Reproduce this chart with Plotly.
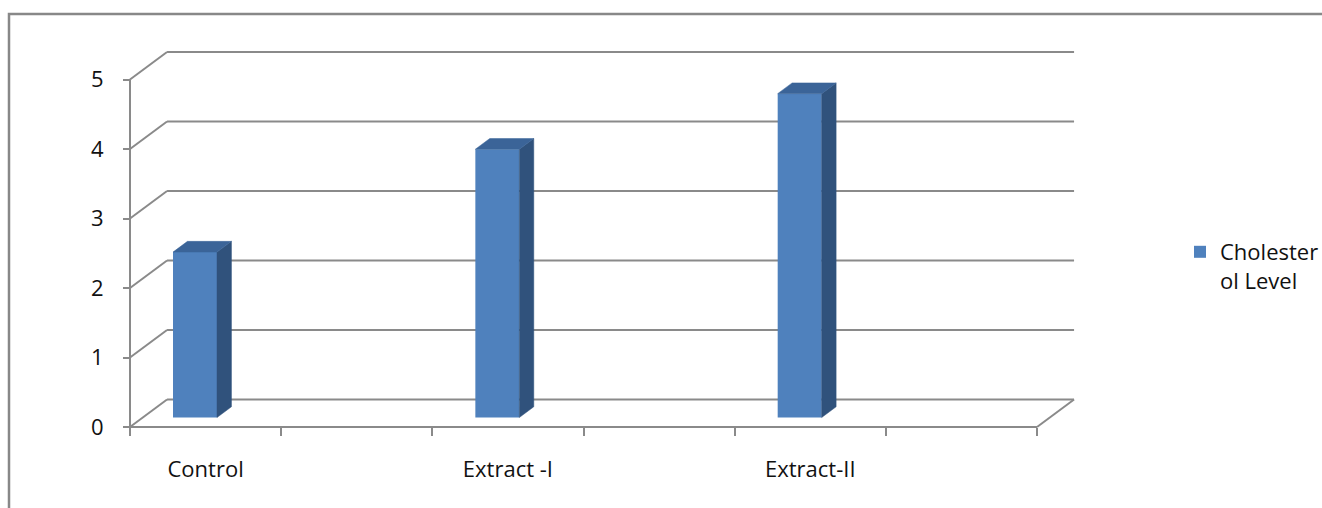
import plotly.graph_objects as go

# ---- data -------------------------------------------------------------
categories = ["Control", "Extract -I", "Extract-II"]
cholesterol = [2.38, 3.86, 4.66]
series_name = "Cholester<br>ol Level"
y_ticks = [0, 1, 2, 3, 4, 5]
n_slots = 6                      # divisions along the category axis
slot_of_category = [0, 2, 4]     # slot index holding each category

# ---- styling ------------------------------------------------------------
FONT = "Open Sans"
FONT_SIZE = 22
GRID = "#8a8a8a"
FRONT = "#4f81bd"
SIDE = "#30527c"
TOP = "#3b6498"

# oblique depth of the 3-D box (axis units)
DEPTH_X = 0.245
DEPTH_Y = 0.396
# where the columns sit inside the box
BAR_FRONT = 0.345      # fraction of depth in front of the columns
BAR_DEPTH = 0.39       # fraction of depth taken by a column
BAR_WIDTH = 0.291
BAR_OFFSET = 0.43      # column centre inside its slot

# pixel scale of the axes
PX_X = 151.17
PX_Y = 69.5
L, R, T, B = 120, 237, 41, 71
W, H = 1322, 508
plot_w = W - L - R
plot_h = H - T - B
x0 = -(130 - L) / PX_X
y0 = -(H - B - 427) / PX_Y
x_range = [x0, x0 + plot_w / PX_X]
y_range = [y0, y0 + plot_h / PX_Y]

fig = go.Figure()

# front faces of the columns
base = BAR_FRONT * DEPTH_Y
x_centres = [s + BAR_OFFSET for s in slot_of_category]
fig.add_trace(go.Bar(
    x=x_centres, y=cholesterol, base=[base] * len(cholesterol),
    width=BAR_WIDTH, name=series_name,
    marker=dict(color=FRONT, line=dict(width=0)),
    showlegend=True,
))

# side and top faces
bdx = BAR_DEPTH * DEPTH_X
bdy = BAR_DEPTH * DEPTH_Y
for xc, v in zip(x_centres, cholesterol):
    xl = xc - BAR_WIDTH / 2
    xr = xc + BAR_WIDTH / 2
    top = base + v
    fig.add_trace(go.Scatter(
        x=[xr, xr + bdx, xr + bdx, xr, xr],
        y=[base, base + bdy, top + bdy, top, base],
        fill="toself", fillcolor=SIDE, mode="lines",
        line=dict(width=0.5, color=SIDE), showlegend=False, hoverinfo="skip",
    ))
    fig.add_trace(go.Scatter(
        x=[xl, xr, xr + bdx, xl + bdx, xl],
        y=[top, top, top + bdy, top + bdy, top],
        fill="toself", fillcolor=TOP, mode="lines",
        line=dict(width=0.5, color=TOP), showlegend=False, hoverinfo="skip",
    ))

# walls, floor and the value axis
segments = []
for v in y_ticks:
    segments.append((DEPTH_X, v + DEPTH_Y, n_slots + DEPTH_X, v + DEPTH_Y))
    segments.append((0, v, DEPTH_X, v + DEPTH_Y))
segments.append((0, 0, n_slots, 0))
segments.append((n_slots, 0, n_slots + DEPTH_X, DEPTH_Y))
segments.append((0, 0, 0, max(y_ticks)))

shapes = [
    dict(type="line", xref="x", yref="y", x0=a, y0=b, x1=c, y1=d,
         line=dict(color=GRID, width=2), layer="below")
    for a, b, c, d in segments
]
# chart border
shapes.append(dict(
    type="rect", xref="paper", yref="paper",
    x0=(9 - L) / plot_w, x1=(W + 20 - L) / plot_w,
    y0=-(B + 20) / plot_h, y1=(H - B - 14) / plot_h,
    line=dict(color="#888888", width=2.5), fillcolor="rgba(0,0,0,0)",
    layer="above",
))

fig.update_layout(
    width=W, height=H,
    margin=dict(l=L, r=R, t=T, b=B, pad=0, autoexpand=False),
    paper_bgcolor="white", plot_bgcolor="white",
    font=dict(family=FONT, size=FONT_SIZE, color="#111111"),
    shapes=shapes,
    showlegend=True,
    legend=dict(
        x=(1180 - L) / plot_w, y=(H - B - 231) / plot_h,
        xanchor="left", yanchor="top", valign="top",
        font=dict(family=FONT, size=FONT_SIZE, color="#111111"),
        bgcolor="rgba(0,0,0,0)",
    ),
    xaxis=dict(
        range=x_range, showgrid=False, zeroline=False, showline=False,
        tickmode="array",
        tickvals=[s + 0.5 for s in slot_of_category], ticktext=categories,
        ticks="", ticklabelstandoff=27,
        anchor="free", position=(427 - (H - B)) / -plot_h,
        minor=dict(tickmode="array", tickvals=list(range(n_slots + 1)),
                   ticks="outside", ticklen=8, tickwidth=2, tickcolor=GRID,
                   showgrid=False),
    ),
    yaxis=dict(
        range=y_range, showgrid=False, zeroline=False, showline=False,
        tickmode="array", tickvals=y_ticks,
        ticks="outside", ticklen=7, tickwidth=2, tickcolor=GRID,
        ticklabelstandoff=15,
        anchor="free", position=(130 - L) / plot_w,
    ),
)

fig.write_html("out.html")
